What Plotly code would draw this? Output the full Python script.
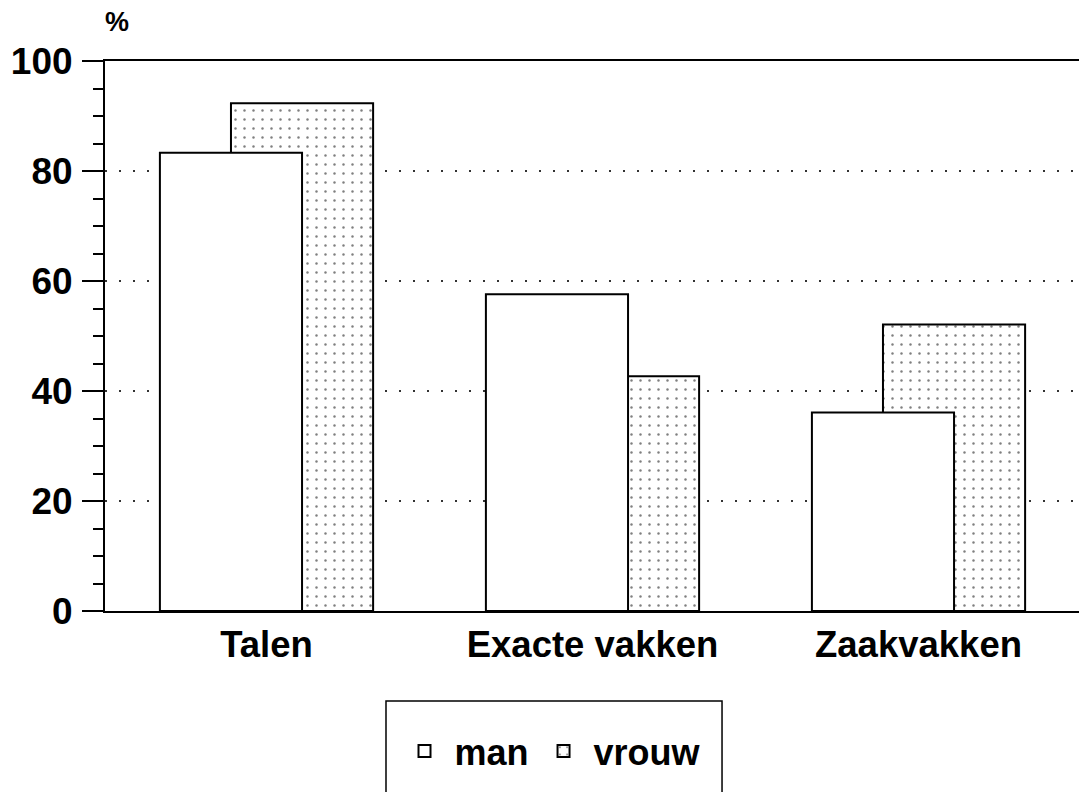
import plotly.graph_objects as go

categories = ["Talen", "Exacte vakken", "Zaakvakken"]
man = [83.3, 57.6, 36.1]
vrouw = [92.3, 42.7, 52.1]
y_ticks = [0, 20, 40, 60, 80, 100]

FONT = "Liberation Sans, Arial, Helvetica, sans-serif"
BAR_W = 0.436

fig = go.Figure()
fig.add_trace(go.Bar(
    x=categories, y=vrouw, name="vrouw",
    width=[BAR_W] * 3, offset=[-0.109] * 3,
    marker=dict(color="white", line=dict(color="black", width=2),
                pattern=dict(shape=".", size=9, solidity=0.06,
                             fgcolor="black", bgcolor="white", fillmode="overlay")),
))
fig.add_trace(go.Bar(
    x=categories, y=man, name="man",
    width=[BAR_W] * 3, offset=[-0.327] * 3,
    marker=dict(color="white", line=dict(color="black", width=2)),
))

fig.update_layout(
    width=1079, height=792, autosize=False,
    margin=dict(l=105, r=0, t=61, b=181, pad=0),
    paper_bgcolor="white", plot_bgcolor="white",
    barmode="overlay",
    font=dict(family=FONT, color="black", weight="bold"),
    showlegend=True,
    legend=dict(
        orientation="h", traceorder="reversed",
        x=0.4574, y=-0.2545, xanchor="center", yanchor="middle",
        font=dict(size=36, family=FONT, weight="bold", color="black"),
        bgcolor="rgba(0,0,0,0)", borderwidth=0,
        itemwidth=50,
    ),
    xaxis=dict(
        type="category", range=[-0.4954, 2.4923],
        showline=True, linecolor="black", linewidth=2, mirror=True,
        ticks="", showgrid=False, zeroline=False,
        tickfont=dict(size=36.5, family=FONT, weight="bold"),
        ticklabelstandoff=0,
    ),
    yaxis=dict(
        range=[0, 100], tickvals=y_ticks,
        showline=True, linecolor="black", linewidth=2,
        ticks="outside", ticklen=21, tickwidth=2, tickcolor="black",
        tickfont=dict(size=37, family=FONT, weight="bold"),
        ticklabelstandoff=2,
        showgrid=True, gridcolor="#333", gridwidth=1.5, griddash="2px,12px",
        zeroline=False,
        minor=dict(dtick=5, ticks="outside", ticklen=10, tickwidth=1.5,
                   tickcolor="black", showgrid=False),
    ),
    annotations=[dict(
        text="%", xref="paper", yref="paper", x=0.0123, y=1.0709,
        xanchor="center", yanchor="middle", showarrow=False,
        font=dict(size=27, family=FONT, weight="bold"),
    )],
    shapes=[dict(
        type="rect", xref="paper", yref="paper",
        x0=0.2885, x1=0.6335, y0=-0.36, y1=-0.1636,
        line=dict(color="black", width=1.5), fillcolor="rgba(0,0,0,0)",
    )],
)

fig.write_html("out.html", config={"displayModeBar": False},
               post_script="document.body.style.margin='0px';")
